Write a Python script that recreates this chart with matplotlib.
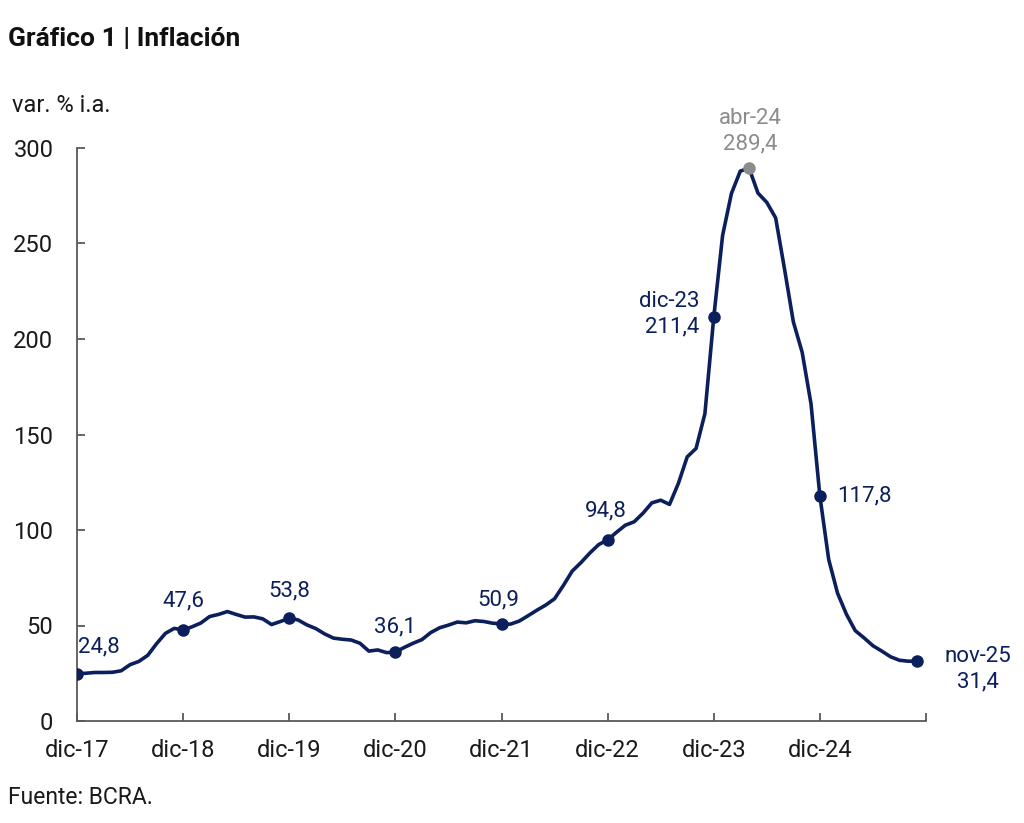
import matplotlib
matplotlib.use("Agg")
import matplotlib.pyplot as plt

plt.rcParams['font.family'] = ['Roboto', 'DejaVu Sans']

# Monthly YoY inflation, dic-17 .. nov-25
values = [
    24.8,
    25.0, 25.4, 25.4, 25.5, 26.3, 29.5, 31.2, 34.4, 40.5, 45.9, 48.5, 47.6,
    49.3, 51.3, 54.7, 55.8, 57.3, 55.8, 54.4, 54.5, 53.5, 50.5, 52.1, 53.8,
    52.9, 50.3, 48.4, 45.6, 43.4, 42.8, 42.4, 40.7, 36.6, 37.2, 35.8, 36.1,
    38.5, 40.7, 42.6, 46.3, 48.8, 50.2, 51.8, 51.4, 52.5, 52.1, 51.2, 50.9,
    50.7, 52.3, 55.1, 58.0, 60.7, 64.0, 71.0, 78.5, 83.0, 88.0, 92.4, 94.8,
    98.8, 102.5, 104.3, 108.8, 114.2, 115.6, 113.4, 124.4, 138.3, 142.7, 160.9, 211.4,
    254.2, 276.2, 287.9, 289.4, 276.4, 271.5, 263.4, 236.7, 209.0, 193.0, 166.0, 117.8,
    84.5, 66.9, 55.9, 47.3, 43.5, 39.4, 36.6, 33.6, 31.8, 31.3, 31.4,
]
tick_labels = ["dic-17", "dic-18", "dic-19", "dic-20", "dic-21", "dic-22", "dic-23", "dic-24", ""]
y_ticks = [0, 50, 100, 150, 200, 250, 300]

# Highlighted points: (index, label)
highlights = [(0, "24,8"), (12, "47,6"), (24, "53,8"), (36, "36,1"), (48, "50,9"),
              (60, "94,8"), (72, "dic-23\n211,4"), (84, "117,8"), (95, "nov-25\n31,4")]
peak = (76, "abr-24\n289,4")

navy = "#0b1f5c"
gray = "#8c8c8c"

fig = plt.figure(figsize=(10.24, 8.23), dpi=100)
ax = fig.add_axes([77/1024, 1-721/823, (926-77)/1024, (721-148)/823])

x = list(range(len(values)))
ax.plot(x, values, color=navy, lw=2.6, solid_joinstyle='round', zorder=2)

for i, _ in highlights:
    ax.plot(i, values[i], 'o', color=navy, ms=8, zorder=3)
ax.plot(peak[0], values[peak[0]], 'o', color=gray, ms=8, zorder=3)

fs_ann = 16
offsets = {
    0: ((1, 27), 'left', 'center'),
    12: ((0, 29), 'center', 'center'),
    24: ((0, 27), 'center', 'center'),
    36: ((0, 25), 'center', 'center'),
    48: ((-3, 24), 'center', 'center'),
    60: ((-2, 29), 'center', 'center'),
    72: ((-14, 3), 'right', 'center'),
    84: ((17, 0), 'left', 'center'),
    95: ((61, -8), 'center', 'center'),
}
for i, lab in highlights:
    off, ha, va = offsets[i]
    ax.annotate(lab, (i, values[i]), xytext=off, textcoords='offset pixels',
                ha=ha, va=va, fontsize=fs_ann, color=navy, linespacing=1.25)
ax.annotate(peak[1], (peak[0], values[peak[0]]), xytext=(1, 37), textcoords='offset pixels',
            ha='center', va='center', fontsize=fs_ann, color=gray, linespacing=1.25)

ax.set_xlim(0, 96)
ax.set_ylim(0, 300)
ax.set_xticks([0, 12, 24, 36, 48, 60, 72, 84, 96])
ax.set_xticklabels(tick_labels)
ax.set_yticks(y_ticks)
ax.set_yticklabels([str(v) for v in y_ticks])

for s in ['top', 'right']:
    ax.spines[s].set_visible(False)
for s in ['left', 'bottom']:
    ax.spines[s].set_color('#595959')
    ax.spines[s].set_linewidth(1.3)
ax.tick_params(axis='both', direction='in', length=6, width=1.3, color='#595959',
               labelsize=17, labelcolor='#1a1a1a')
ax.tick_params(axis='y', pad=17)
ax.tick_params(axis='x', pad=13)

fig.text(8/1024, 1-39/823, "Gráfico 1 | Inflación", fontsize=19, fontweight='bold',
         color='#111111', ha='left', va='center')
fig.text(12/1024, 1-105/823, "var. % i.a.", fontsize=17, color='#1a1a1a', ha='left', va='center')
fig.text(8/1024, 1-797/823, "Fuente: BCRA.", fontsize=16.5, color='#1a1a1a', ha='left', va='center')

fig.savefig("out.png", dpi=100)
